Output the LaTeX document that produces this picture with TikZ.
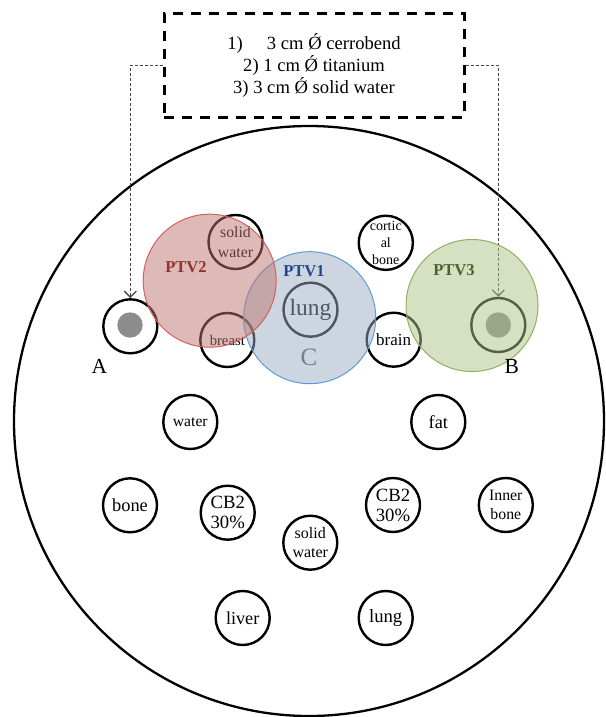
\documentclass[tikz,border=0pt]{standalone}
\usepackage{fontspec}
\setmainfont{Liberation Serif}
\usetikzlibrary{arrows.meta}
\newcommand\myfs[2]{\fontsize{#1pt}{#2pt}\selectfont}
\definecolor{ptvblue}{RGB}{95,155,213}
\definecolor{ptvbluefill}{RGB}{155,171,195}
\definecolor{ptvred}{RGB}{215,95,90}
\definecolor{ptvredfill}{RGB}{187,117,113}
\definecolor{ptvgreen}{RGB}{145,175,95}
\definecolor{ptvgreenfill}{RGB}{173,193,135}
\definecolor{lblred}{RGB}{150,50,45}
\definecolor{lblblue}{RGB}{31,73,140}
\definecolor{lblgreen}{RGB}{79,98,40}
\definecolor{dotgray}{RGB}{140,140,140}
\definecolor{cgray}{RGB}{80,80,80}
\definecolor{arrgray}{RGB}{70,70,70}
\begin{document}
\begin{tikzpicture}[x=1pt,y=-1pt,
  tissue/.style={circle,draw=black,line width=2.4pt,minimum size=54pt,inner sep=0pt,align=center},
  ptv/.style={circle,line width=1pt,minimum size=132pt,inner sep=0pt,fill opacity=0.5},
  ptvlabel/.style={font=\bfseries\myfs{16.6}{18}},
  arrowline/.style={draw=arrgray,line width=0.9pt,dash pattern=on 3pt off 2pt,
    -{Straight Barb[length=6pt,width=12pt,line width=1.3pt]}},
  letter/.style={font=\myfs{21.5}{24}}
]
\useasboundingbox (0,0) rectangle (605,717);

% phantom outline
\node[circle,draw=black,line width=2.3pt,minimum size=590pt,inner sep=0pt] (phantom) at (309,421) {};

% legend box
\node[draw=black,line width=3pt,dash pattern=on 10pt off 8pt,minimum width=300pt,minimum height=103pt,
  align=center,font=\myfs{18.6}{22}] (box) at (314,65.5)
  {1)\hspace{1.3em}3 cm Ǿ cerrobend\\2) 1 cm Ǿ titanium\\3) 3 cm Ǿ solid water};

% tissue inserts
\node[tissue,font=\myfs{15.8}{19.3}] (sw1) at (235.5,242) {solid\\water};
\node[tissue,font=\myfs{14.7}{17}] (breast) at (227.3,340) {breast};
\node[tissue,font=\myfs{14}{17.3}] (cort) at (385.8,242.8) {cortic\\al\\bone};
\node[tissue,font=\myfs{17}{19}] (brain) at (393.7,339.7) {brain};
\node[tissue,font=\myfs{23.4}{25}] (lung1) at (310.5,309.7) {lung};
\node[tissue,font=\myfs{15.6}{18}] (water) at (190.3,422) {water};
\node[tissue,font=\myfs{18.3}{20}] (fat) at (438.3,422) {fat};
\node[tissue,font=\myfs{18.4}{20}] (bone) at (130,505.3) {bone};
\node[tissue,font=\myfs{18.7}{20}] (cbl) at (227.7,512.7) {CB2\\30\%};
\node[tissue,font=\myfs{16}{18.7}] (sw2) at (310.3,542.7) {solid\\water};
\node[tissue,font=\myfs{18.7}{20}] (cbr) at (393,505) {CB2\\30\%};
\node[tissue,font=\myfs{15.8}{18.3}] (inner) at (505.8,505) {Inner\\bone};
\node[tissue,font=\myfs{18.2}{20}] (liver) at (242.7,618) {liver};
\node[tissue,font=\myfs{18.7}{20}] (lung2) at (385.7,618) {lung};

% points A, B
\node[tissue] (A) at (130.3,326.3) {};
\node[circle,fill=dotgray,minimum size=25.4pt,inner sep=0pt] (Adot) at (130,325) {};
\node[tissue] (B) at (498.3,325) {};
\node[circle,fill=dotgray,minimum size=25.4pt,inner sep=0pt] (Bdot) at (498.3,325) {};

\node[font=\myfs{25}{27},text=cgray] (C) at (309,357.5) {C};

% arrows from legend
\draw[arrowline] (box.west) -| (A.north);
\draw[arrowline] (box.east) -| (B.north);

% PTV overlays
\node[ptv,draw=ptvblue,fill=ptvbluefill] (ptv1) at (309.7,317.7) {};
\node[ptv,draw=ptvred,fill=ptvredfill,minimum size=133pt] (ptv2) at (209.7,280.7) {};
\node[ptv,draw=ptvgreen,fill=ptvgreenfill] (ptv3) at (472,305.5) {};

\node[ptvlabel,text=lblred] (l2) at (186,267) {PTV2};
\node[ptvlabel,text=lblblue] (l1) at (304,271.5) {PTV1};
\node[ptvlabel,text=lblgreen] (l3) at (454,270.5) {PTV3};

\node[letter] (la) at (99.5,366) {A};
\node[letter] (lb) at (511.7,366) {B};
\end{tikzpicture}
\end{document}
